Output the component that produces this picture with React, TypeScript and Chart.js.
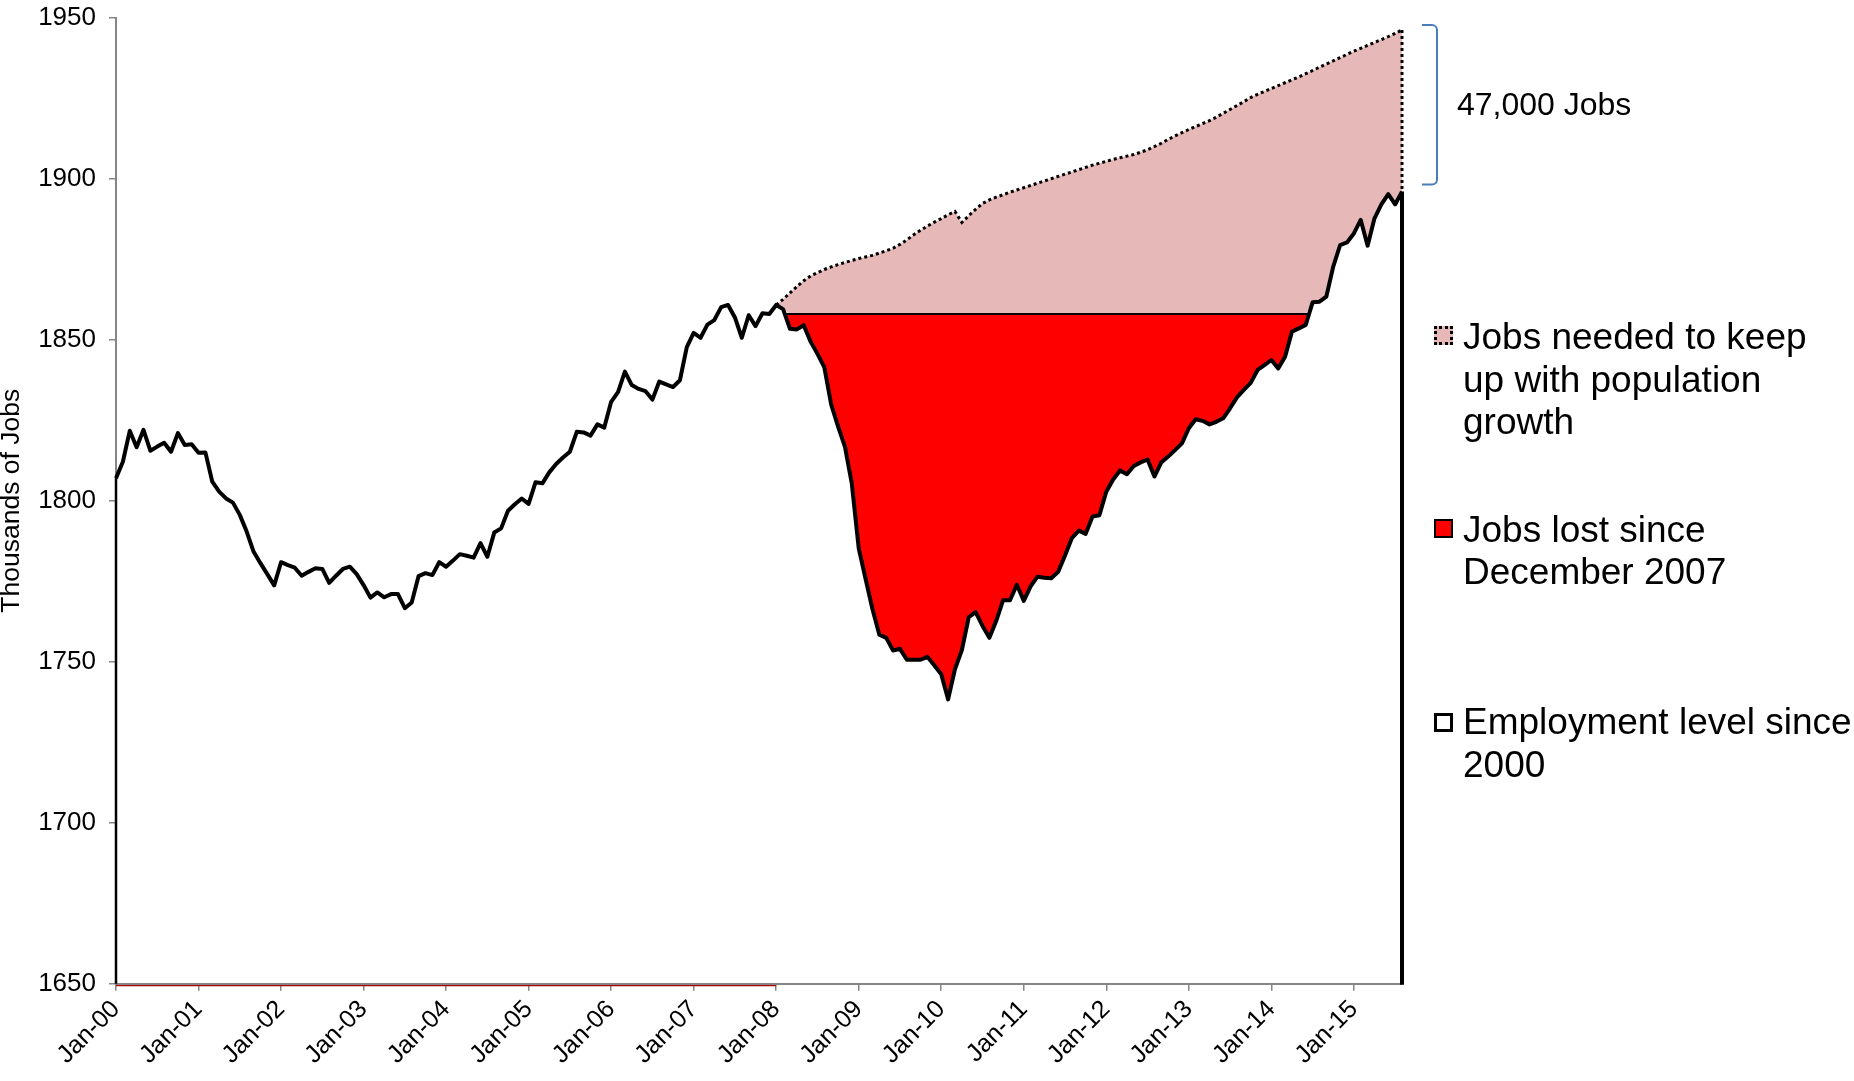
import React, { useEffect, useRef } from 'react';
import { Chart, registerables } from 'chart.js';

Chart.register(...registerables);

// ---------------- data ----------------
const MONTHS = ['Jan', 'Feb', 'Mar', 'Apr', 'May', 'Jun', 'Jul', 'Aug', 'Sep', 'Oct', 'Nov', 'Dec'];
const FIRST_YEAR = 2000;

// Monthly employment level, thousands of jobs, Jan-2000 .. Aug-2015
const employment: number[] = [
  // 2000
  1807.0, 1812.1, 1821.7, 1816.6, 1822.0, 1815.5, 1816.8, 1818.0, 1815.2, 1821.0, 1817.3, 1817.5,
  // 2001
  1814.9, 1815.0, 1805.9, 1802.8, 1800.7, 1799.4, 1795.6, 1790.4, 1784.2, 1780.6, 1777.2, 1773.7,
  // 2002
  1780.9, 1780.0, 1779.2, 1776.7, 1777.9, 1779.0, 1778.8, 1774.5, 1776.7, 1778.8, 1779.5, 1777.2,
  // 2003
  1773.8, 1769.9, 1771.5, 1770.0, 1771.0, 1771.0, 1766.6, 1768.4, 1776.6, 1777.5, 1776.9, 1780.9,
  // 2004
  1779.5, 1781.4, 1783.4, 1782.9, 1782.3, 1786.8, 1782.6, 1790.1, 1791.4, 1796.9, 1798.9, 1800.7,
  // 2005
  1799.0, 1805.7, 1805.4, 1808.8, 1811.4, 1813.4, 1815.2, 1821.4, 1821.2, 1820.2, 1823.7, 1822.7,
  // 2006
  1830.7, 1833.7, 1840.1, 1835.9, 1834.7, 1834.0, 1831.4, 1837.0, 1836.1, 1835.3, 1837.4, 1847.7,
  // 2007
  1852.1, 1850.6, 1854.7, 1856.1, 1860.1, 1860.8, 1856.9, 1850.6, 1857.6, 1854.2, 1858.2, 1858.0,
  // 2008
  1860.8, 1859.5, 1853.4, 1853.2, 1854.5, 1849.4, 1845.6, 1841.4, 1829.8, 1823.0, 1816.7, 1805.2,
  // 2009
  1785.2, 1775.7, 1766.3, 1758.4, 1757.4, 1753.5, 1754.0, 1750.6, 1750.6, 1750.6, 1751.5, 1748.8,
  // 2010
  1746.1, 1738.3, 1747.7, 1753.6, 1763.8, 1765.4, 1761.1, 1757.4, 1762.7, 1769.1, 1769.1, 1773.9,
  // 2011
  1768.9, 1773.4, 1776.4, 1776.1, 1775.9, 1777.9, 1783.0, 1788.4, 1790.7, 1789.7, 1795.1, 1795.5,
  // 2012
  1802.8, 1806.6, 1809.4, 1808.2, 1810.8, 1811.9, 1812.8, 1807.5, 1811.9, 1813.7, 1815.7, 1817.8,
  // 2013
  1822.5, 1825.3, 1824.8, 1823.7, 1824.5, 1825.6, 1828.7, 1832.1, 1834.4, 1836.6, 1840.6, 1842.1,
  // 2014
  1843.7, 1841.1, 1844.7, 1852.5, 1853.5, 1854.6, 1861.6, 1861.8, 1863.4, 1872.7, 1879.4, 1880.2,
  // 2015
  1883.0, 1887.2, 1879.2, 1887.7, 1892.0, 1895.2, 1892.0, 1896.0,
];

// Jobs needed to keep up with population growth, Jan-2008 .. Aug-2015
const POP_START_INDEX = 96; // Jan-08
const populationTrend: number[] = [
  // 2008
  1860.8, 1862.5, 1864.5, 1866.5, 1868.3, 1869.8, 1870.8, 1871.8, 1872.6, 1873.3, 1874.0, 1874.6,
  // 2009
  1875.2, 1875.7, 1876.2, 1876.9, 1877.6, 1878.4, 1879.6, 1881.0, 1882.6, 1884.0, 1885.3, 1886.5,
  // 2010
  1887.6, 1888.8, 1889.8, 1886.4, 1888.5, 1890.5, 1892.3, 1893.4, 1894.3, 1895.0, 1895.8, 1896.5,
  // 2011
  1897.2, 1897.9, 1898.6, 1899.3, 1900.0, 1900.7, 1901.4, 1902.1, 1902.8, 1903.5, 1904.2, 1904.8,
  // 2012
  1905.4, 1906.0, 1906.5, 1907.0, 1907.5, 1908.2, 1909.0, 1910.0, 1911.0, 1912.2, 1913.3, 1914.3,
  // 2013
  1915.3, 1916.2, 1917.1, 1918.0, 1919.1, 1920.3, 1921.5, 1922.7, 1923.9, 1925.2, 1926.2, 1927.1,
  // 2014
  1928.0, 1928.9, 1929.8, 1930.7, 1931.6, 1932.6, 1933.6, 1934.6, 1935.6, 1936.6, 1937.6, 1938.6,
  // 2015
  1939.6, 1940.5, 1941.4, 1942.3, 1943.2, 1944.1, 1945.1, 1946.2,
];

const DEC_2007_INDEX = 95;
const Y_MIN = 1650;
const Y_MAX = 1950;
const Y_STEP = 50;

const Y_TITLE = 'Thousands of Jobs';
const GAP_LABEL = '47,000 Jobs';
const LEGEND_POP = ['Jobs needed to keep', 'up with population', 'growth'];
const LEGEND_LOST = ['Jobs lost since', 'December 2007'];
const LEGEND_EMP = ['Employment level since', '2000'];

// ---------------- styles ----------------
const FONT = "'Liberation Sans', Arial, sans-serif";
const PINK = '#E6B9B8';
const RED = '#FF0000';
const AXIS = '#868686';
const BRACKET = '#4A7EBB';

export default function App() {
  const ref = useRef<HTMLCanvasElement>(null);

  useEffect(() => {
    const canvas = ref.current;
    if (!canvas) return;
    const n = employment.length;
    const labels = employment.map(
      (_, i) => `${MONTHS[i % 12]}-${String((FIRST_YEAR + Math.floor(i / 12)) % 100).padStart(2, '0')}`
    );
    const base = employment[DEC_2007_INDEX];
    const pop = employment.map((_, i) => (i >= POP_START_INDEX ? populationTrend[i - POP_START_INDEX] : null));
    const envelope = employment.map((v, i) => (i >= POP_START_INDEX ? Math.max(v, base) : null));
    const below = employment
      .map((v, i) => (i > DEC_2007_INDEX && v < base ? i : -1))
      .filter((i) => i >= 0);
    const lossStart = below[0] - 1;
    const lossEnd = below[below.length - 1] + 1;
    const baseline = employment.map((_, i) => (i >= lossStart && i <= lossEnd ? base : null));

    const decor = {
      id: 'decor',
      afterDatasetsDraw(chart: any) {
        const { ctx, chartArea } = chart;
        const x = chart.scales.x;
        const y = chart.scales.y;
        const px = (i: number) => x.getPixelForValue(i);
        const crossX = (i0: number, i1: number) => {
          const t = (employment[i0] - base) / (employment[i0] - employment[i1]);
          return px(i0) + t * (px(i1) - px(i0));
        };
        ctx.save();
        // Dec-2007 level line across the loss area
        ctx.strokeStyle = '#000';
        ctx.lineWidth = 2;
        ctx.beginPath();
        ctx.moveTo(crossX(lossStart, lossStart + 1), y.getPixelForValue(base));
        ctx.lineTo(crossX(lossEnd - 1, lossEnd), y.getPixelForValue(base));
        ctx.stroke();
        // left edge of the employment area
        ctx.lineWidth = 2.5;
        ctx.beginPath();
        ctx.moveTo(px(0), y.getPixelForValue(employment[0]));
        ctx.lineTo(px(0), y.getPixelForValue(Y_MIN));
        ctx.stroke();
        // right edge of the employment area
        ctx.lineWidth = 4;
        ctx.beginPath();
        ctx.moveTo(px(n - 1), y.getPixelForValue(employment[n - 1]));
        ctx.lineTo(px(n - 1), y.getPixelForValue(Y_MIN) + 1);
        ctx.stroke();
        // dotted right edge of the population area
        ctx.lineWidth = 3;
        ctx.setLineDash([3, 3]);
        ctx.beginPath();
        ctx.moveTo(px(n - 1), y.getPixelForValue(pop[n - 1] as number));
        ctx.lineTo(px(n - 1), y.getPixelForValue(employment[n - 1]));
        ctx.stroke();
        ctx.setLineDash([]);
        // thin dark red base edge before 2008
        ctx.strokeStyle = '#B00000';
        ctx.lineWidth = 1.2;
        ctx.beginPath();
        ctx.moveTo(px(0), y.getPixelForValue(Y_MIN) + 2);
        ctx.lineTo(px(POP_START_INDEX), y.getPixelForValue(Y_MIN) + 2);
        ctx.stroke();
        // bracket for the gap
        const bx0 = chartArea.right + 20;
        const bx1 = chartArea.right + 35;
        const top = y.getPixelForValue(pop[n - 1] as number) - 5;
        const bot = y.getPixelForValue(employment[n - 1]) - 7;
        const r = 5;
        ctx.strokeStyle = BRACKET;
        ctx.lineWidth = 2;
        ctx.beginPath();
        ctx.moveTo(bx0, top);
        ctx.arcTo(bx1, top, bx1, top + r, r);
        ctx.lineTo(bx1, bot - r);
        ctx.arcTo(bx1, bot, bx0, bot, r);
        ctx.lineTo(bx0, bot);
        ctx.stroke();
        ctx.restore();
      },
    };

    const chart = new Chart(canvas, {
      type: 'line',
      data: {
        labels,
        datasets: [
          {
            label: 'Employment level since 2000',
            data: employment,
            borderColor: '#000',
            borderWidth: 4,
            borderJoinStyle: 'round',
            pointRadius: 0,
            fill: false,
            order: 0,
          },
          {
            label: 'envelope',
            data: envelope,
            borderColor: 'rgba(0,0,0,0)',
            borderWidth: 0,
            pointRadius: 0,
            fill: false,
            order: 5,
          },
          {
            label: 'Jobs needed to keep up with population growth',
            data: pop,
            borderColor: '#000',
            borderWidth: 3,
            borderDash: [3, 3],
            pointRadius: 0,
            fill: { target: 1, above: PINK, below: PINK },
            order: 3,
          },
          {
            label: 'Jobs lost since December 2007',
            data: baseline,
            borderColor: 'rgba(0,0,0,0)',
            borderWidth: 0,
            pointRadius: 0,
            fill: { target: 0, above: RED, below: 'rgba(0,0,0,0)' },
            order: 2,
          },
        ] as any,
      },
      options: {
        responsive: false,
        animation: false,
        devicePixelRatio: 1,
        layout: { padding: { left: 0, top: 17.7, right: 452, bottom: 0 } },
        elements: { line: { tension: 0 } },
        plugins: {
          legend: { display: false },
          tooltip: { enabled: false },
        },
        scales: {
          x: {
            type: 'category',
            offset: false,
            afterFit: (s: any) => {
              s.height = 97.3;
            },
            grid: {
              display: true,
              drawOnChartArea: false,
              drawTicks: true,
              tickLength: 7,
              color: AXIS,
              lineWidth: 1.5,
            },
            border: { display: true, color: AXIS, width: 2 },
            ticks: {
              autoSkip: false,
              maxRotation: 45,
              minRotation: 45,
              padding: 4,
              color: '#000',
              font: { family: FONT, size: 25 },
              callback: (_v: any, i: number) => (i % 12 === 0 ? labels[i] : null),
            },
          },
          y: {
            min: Y_MIN,
            max: Y_MAX,
            afterFit: (s: any) => {
              s.width = 116;
              s.paddingTop = 0;
              s.paddingBottom = 0;
            },
            grid: {
              display: true,
              drawOnChartArea: false,
              drawTicks: true,
              tickLength: 7,
              color: AXIS,
              lineWidth: 1.5,
            },
            border: { display: true, color: AXIS, width: 2 },
            ticks: {
              stepSize: Y_STEP,
              padding: 13,
              color: '#000',
              font: { family: FONT, size: 26 },
              callback: (v: any) => String(v),
            },
            title: {
              display: true,
              text: Y_TITLE,
              color: '#000',
              font: { family: FONT, size: 26.5, lineHeight: 0.85 },
              padding: 0,
            },
          },
        },
      } as any,
      plugins: [decor],
    });

    return () => chart.destroy();
  }, []);

  const textStyle: React.CSSProperties = {
    position: 'absolute',
    left: 1463,
    fontFamily: FONT,
    fontSize: 37,
    lineHeight: '42.5px',
    color: '#000',
    whiteSpace: 'nowrap',
  };
  const swatch = (top: number, extra: React.CSSProperties): React.CSSProperties => ({
    position: 'absolute',
    left: 1434,
    top,
    width: 19,
    height: 19,
    boxSizing: 'border-box',
    ...extra,
  });

  return (
    <div
      style={{
        position: 'fixed',
        left: 0,
        top: 0,
        width: 1854,
        height: 1081,
        background: '#fff',
        overflow: 'hidden',
      }}
    >
      <canvas ref={ref} width={1854} height={1081} style={{ position: 'absolute', left: 0, top: 0 }} />
      <div
        style={{
          position: 'absolute',
          left: 1457,
          top: 85,
          fontFamily: FONT,
          fontSize: 32,
          lineHeight: '38px',
          whiteSpace: 'nowrap',
          color: '#000',
        }}
      >
        {GAP_LABEL}
      </div>
      <div style={swatch(326, { background: PINK, border: '3px dotted #000' })} />
      <div style={{ ...textStyle, top: 316 }}>
        {LEGEND_POP.map((l, i) => (
          <div key={i}>{l}</div>
        ))}
      </div>
      <div style={swatch(519, { background: RED, border: '2px solid #000' })} />
      <div style={{ ...textStyle, top: 508.5 }}>
        {LEGEND_LOST.map((l, i) => (
          <div key={i}>{l}</div>
        ))}
      </div>
      <div style={swatch(713, { background: '#fff', border: '3px solid #000' })} />
      <div style={{ ...textStyle, top: 701 }}>
        {LEGEND_EMP.map((l, i) => (
          <div key={i}>{l}</div>
        ))}
      </div>
    </div>
  );
}
